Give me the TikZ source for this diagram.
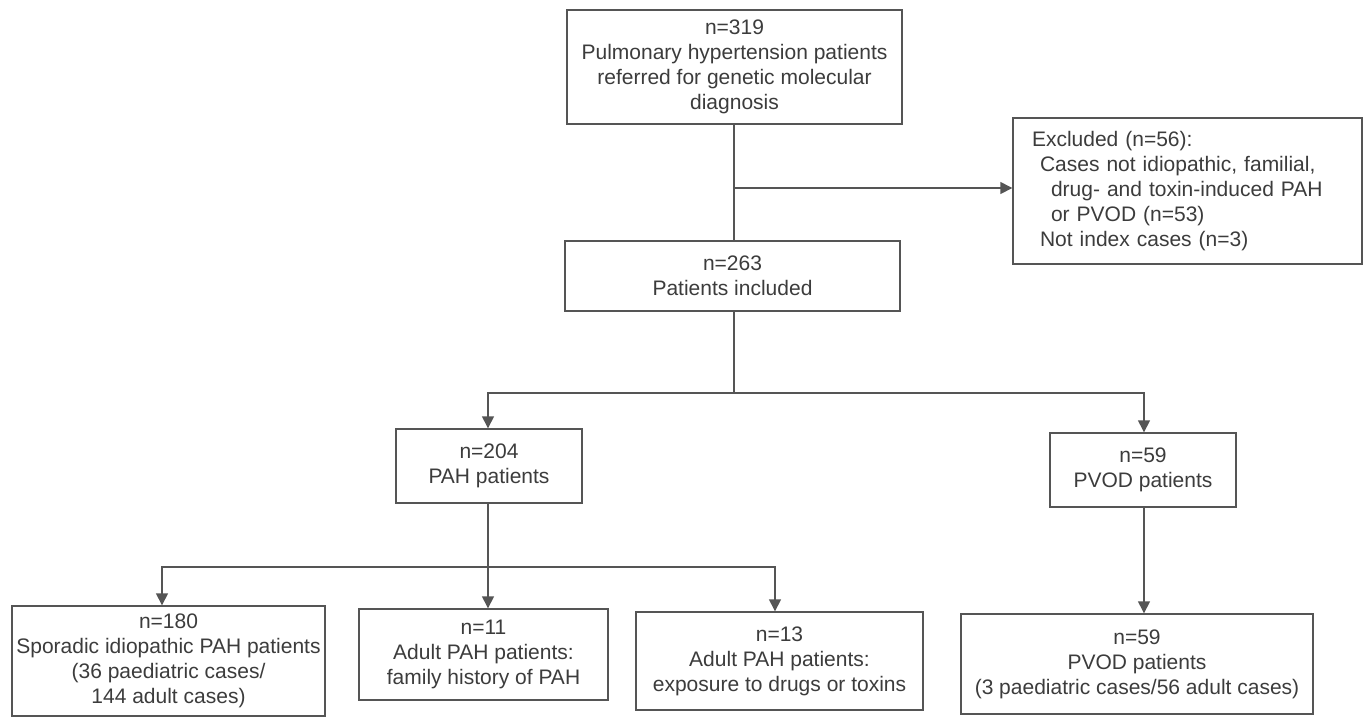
\documentclass[tikz,border=0pt]{standalone}
\usepackage{fontspec}
\setmainfont{Liberation Sans}
\usetikzlibrary{arrows.meta}
\definecolor{linec}{HTML}{555555}
\definecolor{textc}{HTML}{3C3C3C}
\begin{document}
\begin{tikzpicture}[x=1pt,y=-1pt,
  box/.style={draw=linec,line width=1.4pt,align=center,inner sep=0pt,text=textc,font=\fontsize{21}{25}\selectfont},
  conn/.style={draw=linec,line width=1.4pt},
  arr/.style={conn,-{Triangle[length=12pt,width=12pt]}}]
\useasboundingbox[fill=white] (0,0) rectangle (1368,724);
\node[box,minimum width=335pt,minimum height=114pt] (top) at (734.5,67) {n=319\\Pulmonary hypertension patients\\referred for genetic molecular\\diagnosis};
\node[box,align=left,text width=311pt,inner xsep=19pt,minimum height=146pt] (excl) at (1187.5,191) {Excluded (n=56):\\\hspace*{8pt}Cases not idiopathic, familial,\\\hspace*{19pt}drug- and toxin-induced PAH\\\hspace*{19pt}or PVOD (n=53)\\\hspace*{8pt}Not index cases (n=3)};
\node[box,minimum width=335pt,minimum height=70pt] (inc) at (732.5,276) {n=263\\Patients included};
\node[box,minimum width=186pt,minimum height=74pt] (pah) at (489,466) {n=204\\PAH patients};
\node[box,minimum width=186pt,minimum height=74pt] (pvod) at (1143,470) {n=59\\PVOD patients};
\node[box,minimum width=313pt,minimum height=110pt] (b1) at (168.5,661) {n=180\\Sporadic idiopathic PAH patients\\(36 paediatric cases/\\144 adult cases)};
\node[box,minimum width=249pt,minimum height=91pt] (b2) at (483.5,654.5) {n=11\\Adult PAH patients:\\family history of PAH};
\node[box,minimum width=287pt,minimum height=98pt] (b3) at (779.5,661) {n=13\\Adult PAH patients:\\exposure to drugs or toxins};
\node[box,minimum width=352pt,minimum height=100pt] (b4) at (1137,664) {n=59\\PVOD patients\\(3 paediatric cases/56 adult cases)};
\coordinate (j1) at (734,188);
\coordinate (j2) at (734,393);
\coordinate (a1) at (488,393);
\coordinate (a2) at (1144,393);
\coordinate (j3) at (488,567);
\coordinate (c1) at (162,567);
\coordinate (c3) at (775,567);
\draw[conn] (top.south -| j1) -- (inc.north -| j1);
\draw[arr] (j1) -- (j1 -| excl.west);
\draw[conn] (inc.south -| j2) -- (j2);
\draw[arr] (j2) -- (a1) -- (a1 |- pah.north);
\draw[arr] (j2) -- (a2) -- (a2 |- pvod.north);
\draw[conn] (pah.south -| j3) -- (j3);
\draw[arr] (j3) -- (c1) -- (c1 |- b1.north);
\draw[arr] (j3) -- (j3 |- b2.north);
\draw[arr] (j3) -- (c3) -- (c3 |- b3.north);
\draw[arr] (pvod.south -| a2) -- (a2 |- b4.north);
\end{tikzpicture}
\end{document}
